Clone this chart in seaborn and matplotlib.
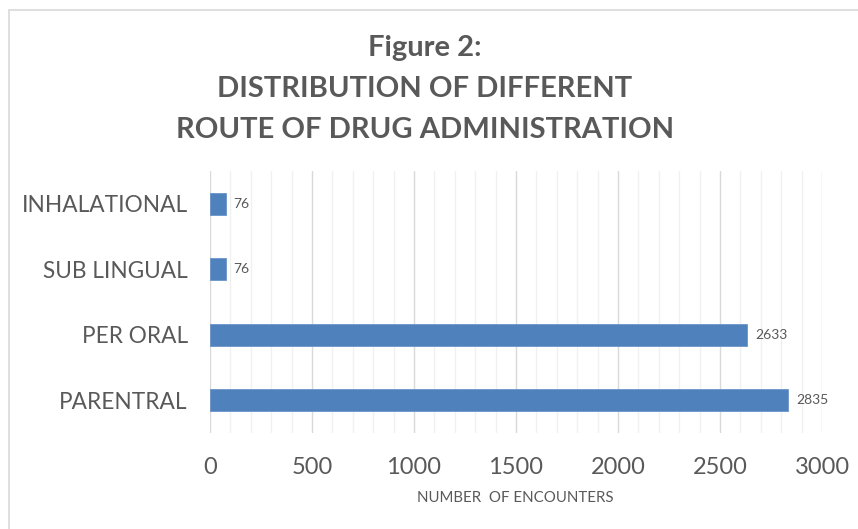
import matplotlib
matplotlib.use("Agg")
import matplotlib.pyplot as plt
import seaborn as sns
import pandas as pd
from matplotlib.patches import Rectangle

categories = ["INHALATIONAL", "SUB LINGUAL", "PER ORAL", "PARENTRAL"]
values = [76, 76, 2633, 2835]
x_ticks = [0, 500, 1000, 1500, 2000, 2500, 3000]
title_lines = ["Figure 2:", "DISTRIBUTION OF DIFFERENT", "ROUTE OF DRUG ADMINISTRATION"]
x_label = "NUMBER  OF ENCOUNTERS"

df = pd.DataFrame({"route": categories, "count": values})

sns.set_theme(style="white")
plt.rcParams['font.family'] = ['Lato', 'DejaVu Sans']
txt = "#595959"

fig = plt.figure(figsize=(8.58, 5.29), dpi=100)
W, H = 858, 529
ax = fig.add_axes([210 / W, 1 - 433 / H, 612 / W, 262 / H])

sns.barplot(data=df, x="count", y="route", order=categories, orient="h",
            color="#4F81BD", saturation=1, width=0.34, ax=ax,
            edgecolor="#6A94C8", linewidth=0.6, zorder=3)

ax.set_xlim(0, 3000)
ax.set_xticks(x_ticks)
ax.set_xticks(range(0, 3001, 100), minor=True)
ax.grid(axis="x", which="major", color="#D9D9D9", linewidth=1.0, zorder=0)
ax.grid(axis="x", which="minor", color="#F0F0F0", linewidth=1.0, zorder=0)
ax.set_axisbelow(True)
for s in ax.spines.values():
    s.set_visible(False)
ax.tick_params(axis="both", which="both", length=0)
ax.tick_params(axis="x", labelsize=17, labelcolor=txt, pad=17)
ax.tick_params(axis="y", labelsize=16.3, labelcolor=txt, pad=16)
ax.set_ylabel("")
ax.set_xlabel("")

for i, v in enumerate(values):
    ax.text(v + 38, i, str(v), va="center", ha="left", fontsize=10, color=txt)

fig.text(515 / W, 1 - 498 / H, x_label, ha="center", va="center",
         fontsize=10.8, color=txt)

title_y = [48, 89, 130]
for line, y in zip(title_lines, title_y):
    fig.text(425 / W, 1 - y / H, line, ha="center", va="center",
             fontsize=21, fontweight="bold", color=txt)

fig.patches.append(Rectangle((9 / W, -0.1), 1.2, 1 - 10 / H + 0.1,
                             transform=fig.transFigure, fill=False,
                             edgecolor="#D9D9D9", linewidth=1.2))

fig.savefig("out.png", dpi=100, facecolor="white")
